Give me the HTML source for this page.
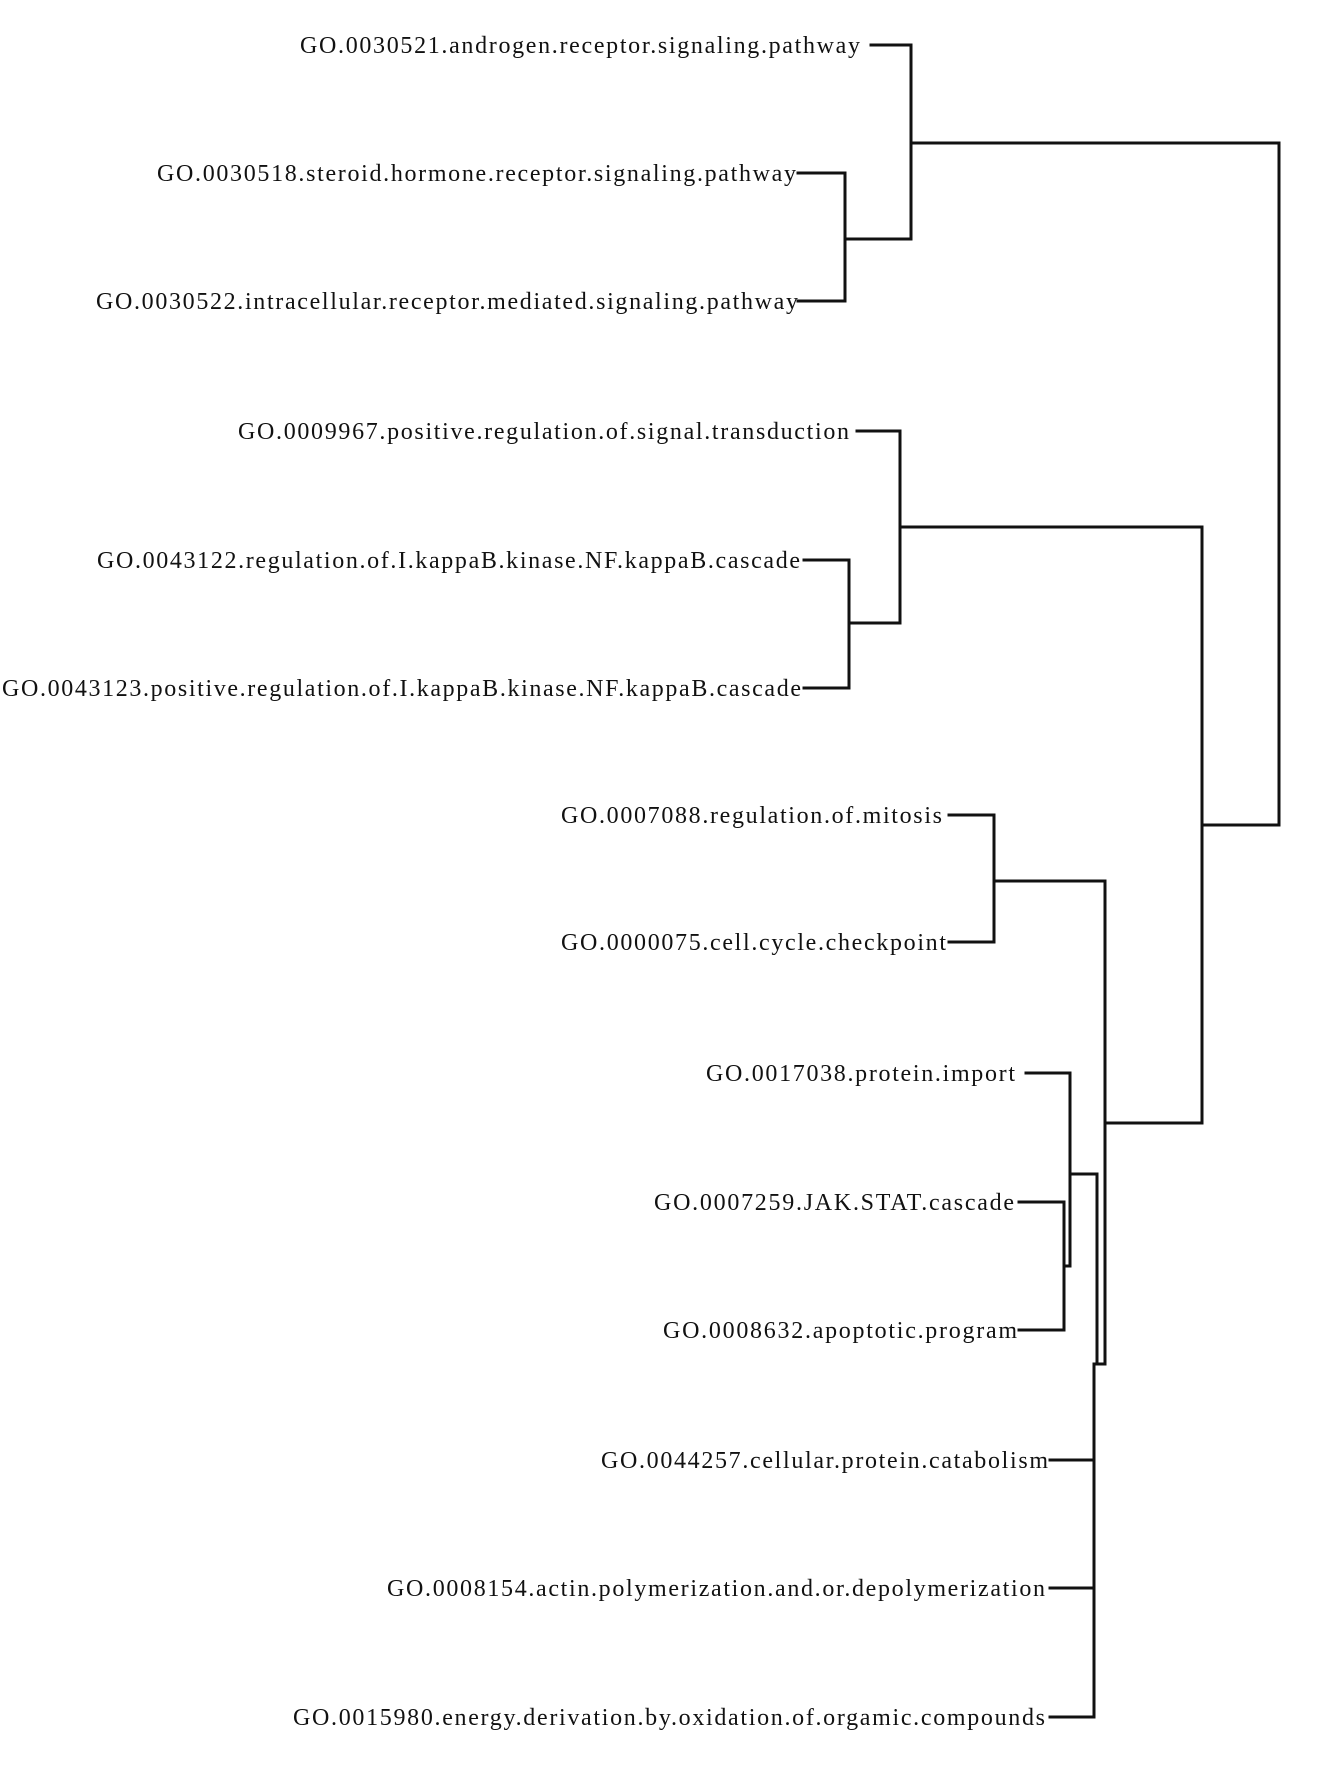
<!DOCTYPE html>
<html><head><meta charset="utf-8"><style>html,body{margin:0;padding:0;background:#fff}</style></head>
<body>
<svg width="1330" height="1778" viewBox="0 0 1330 1778" xmlns="http://www.w3.org/2000/svg">
<g font-family="Liberation Serif, serif" font-size="24" fill="#111">
<text x="300" y="53" textLength="560" lengthAdjust="spacing">GO.0030521.androgen.receptor.signaling.pathway</text>
<text x="157" y="181" textLength="639" lengthAdjust="spacing">GO.0030518.steroid.hormone.receptor.signaling.pathway</text>
<text x="96" y="309" textLength="702" lengthAdjust="spacing">GO.0030522.intracellular.receptor.mediated.signaling.pathway</text>
<text x="238" y="439" textLength="611" lengthAdjust="spacing">GO.0009967.positive.regulation.of.signal.transduction</text>
<text x="97" y="568" textLength="703" lengthAdjust="spacing">GO.0043122.regulation.of.I.kappaB.kinase.NF.kappaB.cascade</text>
<text x="2" y="696" textLength="799" lengthAdjust="spacing">GO.0043123.positive.regulation.of.I.kappaB.kinase.NF.kappaB.cascade</text>
<text x="561" y="823" textLength="381" lengthAdjust="spacing">GO.0007088.regulation.of.mitosis</text>
<text x="561" y="950" textLength="385" lengthAdjust="spacing">GO.0000075.cell.cycle.checkpoint</text>
<text x="706" y="1081" textLength="309" lengthAdjust="spacing">GO.0017038.protein.import</text>
<text x="654" y="1210" textLength="360" lengthAdjust="spacing">GO.0007259.JAK.STAT.cascade</text>
<text x="663" y="1338" textLength="354" lengthAdjust="spacing">GO.0008632.apoptotic.program</text>
<text x="601" y="1468" textLength="447" lengthAdjust="spacing">GO.0044257.cellular.protein.catabolism</text>
<text x="387" y="1596" textLength="658" lengthAdjust="spacing">GO.0008154.actin.polymerization.and.or.depolymerization</text>
<text x="293" y="1725" textLength="752" lengthAdjust="spacing">GO.0015980.energy.derivation.by.oxidation.of.orgamic.compounds</text>
</g>
<g stroke="#111" stroke-width="3" fill="none" stroke-linecap="square">
<polyline points="871,45 911,45 911,239 845,239"/>
<polyline points="798,173 845,173 845,301 798,301"/>
<polyline points="911,143 1279,143 1279,825 1202,825"/>
<polyline points="857,431 900,431 900,623 849,623"/>
<polyline points="804,560 849,560 849,688 804,688"/>
<polyline points="900,527 1202,527 1202,1123 1105,1123"/>
<polyline points="949,815 994,815 994,942 949,942"/>
<polyline points="994,881 1105,881 1105,1364 1095,1364"/>
<polyline points="1026,1073 1070,1073 1070,1266 1064,1266"/>
<polyline points="1019,1202 1064,1202 1064,1330 1019,1330"/>
<polyline points="1070,1174 1097,1174 1097,1364"/>
<polyline points="1050,1460 1094,1460"/>
<polyline points="1050,1588 1094,1588"/>
<polyline points="1050,1717 1094,1717 1094,1364"/>
</g>
</svg>
</body></html>
